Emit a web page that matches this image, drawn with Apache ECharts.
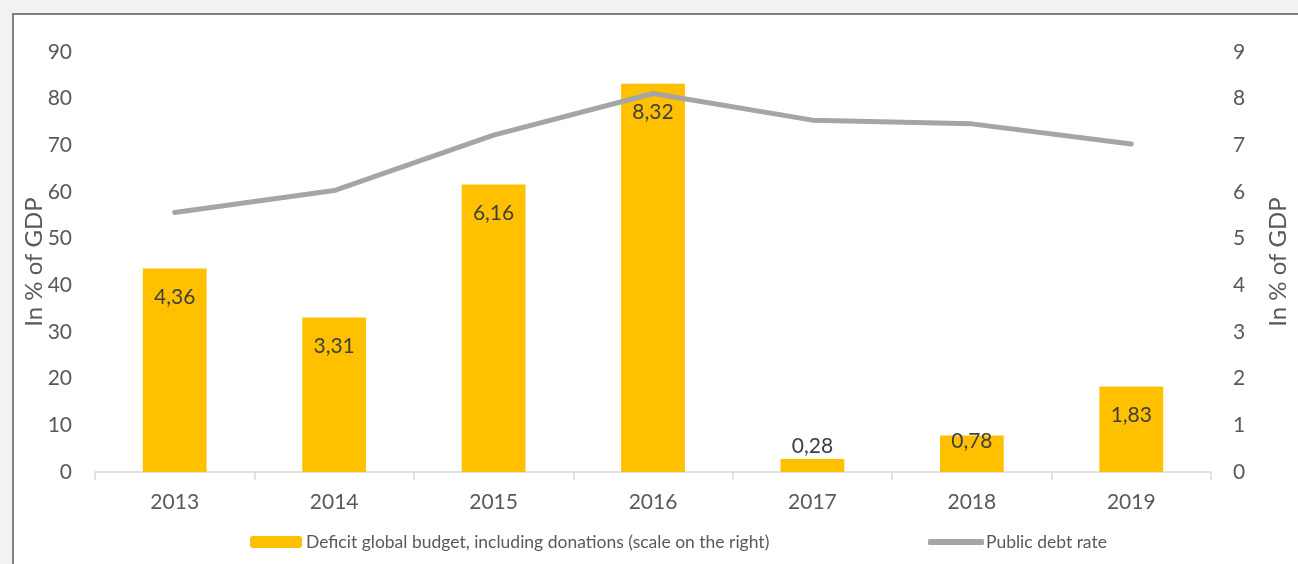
<!DOCTYPE html>
<html>
<head>
<meta charset="utf-8">
<script src="https://cdn.jsdelivr.net/npm/echarts@6/dist/echarts.min.js"></script>
<style>
  html, body { margin: 0; padding: 0; background: #f2f2f2; }
  #frame { position: absolute; left: 12px; top: 13px; width: 1300px; height: 600px;
           background: #fff; border: 2px solid #808080; }
  #showChart { position: absolute; left: 0; top: 0; width: 1298px; height: 564px; }
</style>
</head>
<body>
<div id="frame"></div>
<div id="showChart"></div>
<script>
var years = ['2013', '2014', '2015', '2016', '2017', '2018', '2019'];
// deficit, right scale
var deficit = [4.36, 3.31, 6.16, 8.32, 0.28, 0.78, 1.83];
// public debt rate, left scale
var debtRate = [55.6, 60.3, 72.2, 81.1, 75.4, 74.6, 70.3];
var leftTicks = [0, 90, 10];
var rightTicks = [0, 9, 1];

var myChart = echarts.init(document.getElementById('showChart'));

var txt = '#595959';
var font = 'Lato';

//labels: small bars get the label above or overflowing
var barData = deficit.map(function (v, i) {
    var item = { value: v };
    if (i == 4) item.label = { position: 'top', distance: 2 };
    if (i == 5) item.label = { position: 'top', distance: -16 };
    return item;
});

var option = {
    backgroundColor: 'transparent',
    textStyle: { fontFamily: font },
    grid: { left: 95, right: 80, top: 52, bottom: 92 },
    legend: [{
        left: 245, top: 528,
        data: ['Deficit global budget, including donations (scale on the right)'],
        itemWidth: 52, itemHeight: 12,
        textStyle: { color: txt, fontSize: 17.5, fontFamily: font, padding: [0, 0, 0, -1] }
    }, {
        left: 923, top: 528,
        data: [{ name: 'Public debt rate', icon: 'roundRect' }],
        itemWidth: 56, itemHeight: 6,
        textStyle: { color: txt, fontSize: 17.5, fontFamily: font, padding: [0, 0, 0, -3] }
    }],
    xAxis: {
        type: 'category',
        data: years,
        boundaryGap: true,
        axisLine: { lineStyle: { color: '#d9d9d9', width: 1.5 } },
        axisTick: { show: true, length: 8, lineStyle: { color: '#d9d9d9', width: 1.5 } },
        axisLabel: { color: txt, fontSize: 21, margin: 20, fontFamily: font }
    },
    yAxis: [{
        type: 'value',
        min: leftTicks[0], max: leftTicks[1], interval: leftTicks[2],
        name: 'In % of GDP',
        nameLocation: 'middle',
        nameGap: 49,
        nameMoveOverlap: false,
        nameTextStyle: { color: txt, fontSize: 24, fontFamily: font },
        axisLine: { show: false },
        axisTick: { show: false },
        splitLine: { show: false },
        axisLabel: { color: txt, fontSize: 21, margin: 23, fontFamily: font }
    }, {
        type: 'value',
        position: 'right',
        min: rightTicks[0], max: rightTicks[1], interval: rightTicks[2],
        name: 'In % of GDP',
        nameLocation: 'middle',
        nameGap: 55,
        nameMoveOverlap: false,
        nameTextStyle: { color: txt, fontSize: 24, fontFamily: font },
        axisLine: { show: false },
        axisTick: { show: false },
        splitLine: { show: false },
        axisLabel: { color: txt, fontSize: 21, margin: 22, fontFamily: font }
    }],
    series: [{
        name: 'Deficit global budget, including donations (scale on the right)',
        type: 'bar',
        yAxisIndex: 1,
        barWidth: '40%',
        itemStyle: { color: '#ffc000' },
        label: {
            show: true,
            position: 'insideTop',
            distance: 18,
            color: '#404040',
            fontSize: 21,
            fontFamily: font,
            formatter: function (p) { return String(p.value).replace('.', ','); }
        },
        data: barData
    }, {
        name: 'Public debt rate',
        type: 'line',
        yAxisIndex: 0,
        showSymbol: false,
        symbol: 'none',
        lineStyle: { color: '#a5a5a5', width: 5, cap: 'round', join: 'round' },
        itemStyle: { color: '#a5a5a5' },
        data: debtRate
    }]
};

myChart.setOption(option);
</script>
</body>
</html>
